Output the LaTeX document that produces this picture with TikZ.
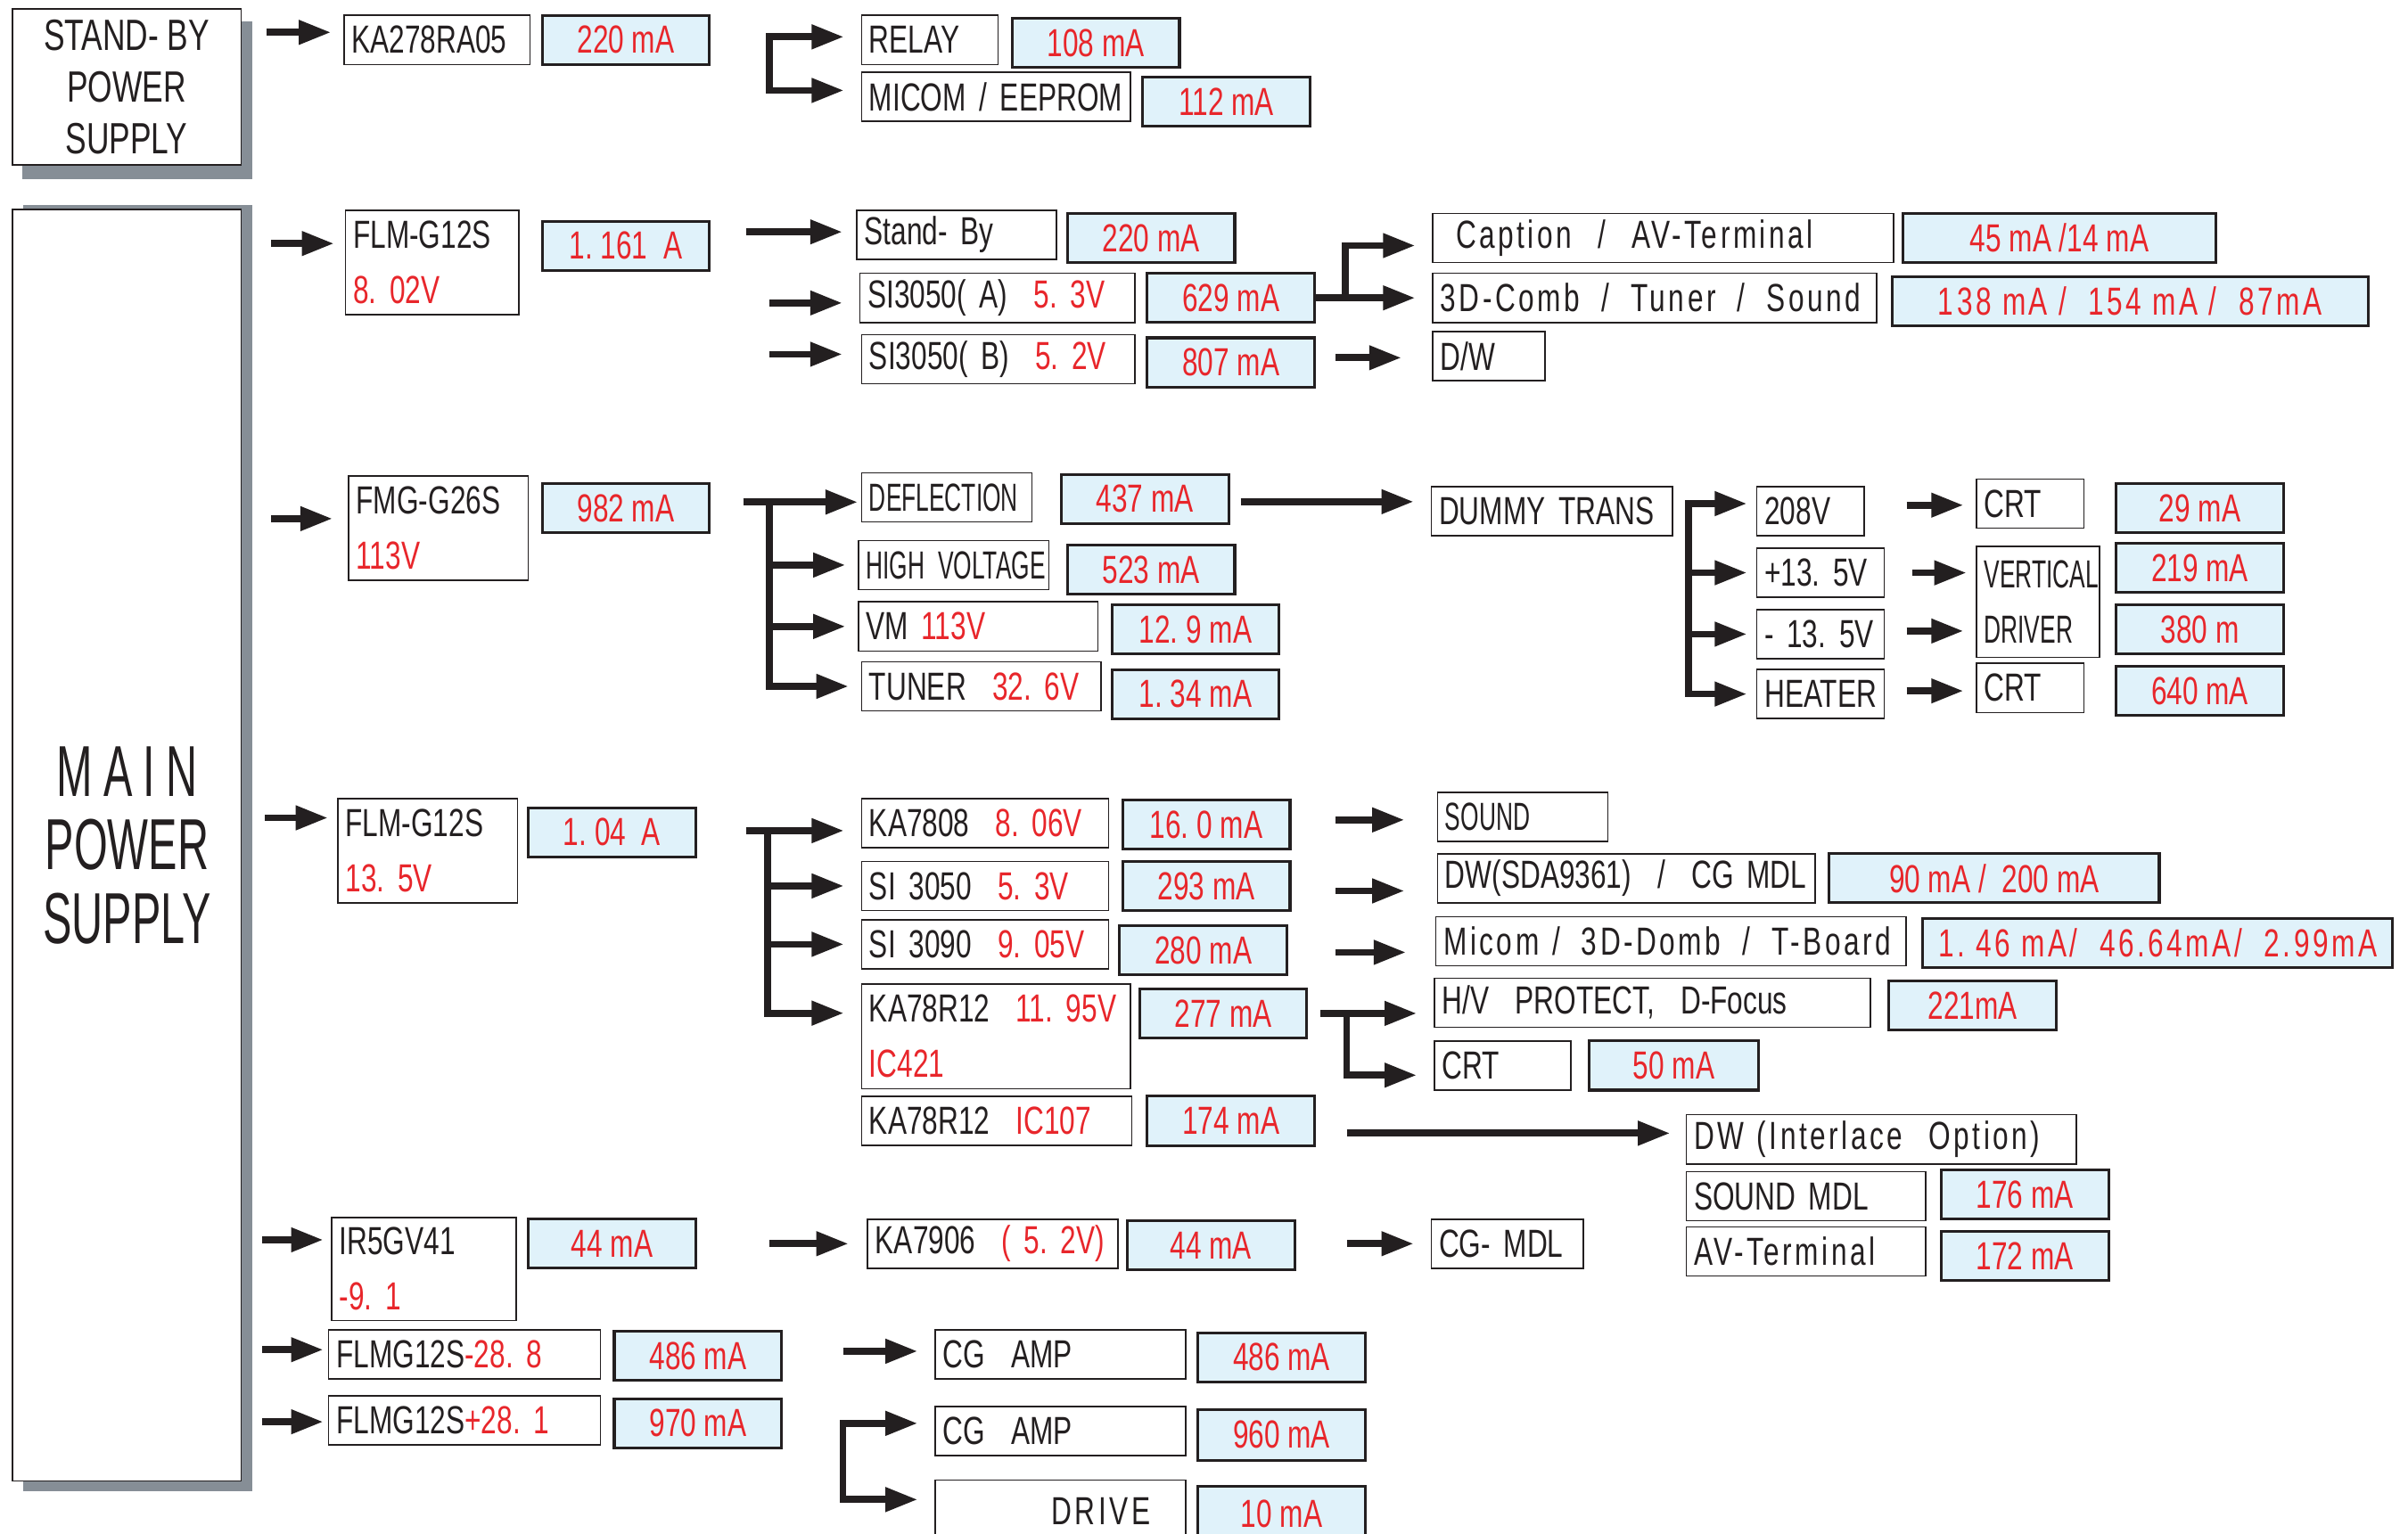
\documentclass[tikz,border=0pt]{standalone}
\usepackage{fontspec}
\setmainfont{Liberation Sans}[FakeStretch=0.72]
\newfontfamily\nar{Liberation Sans}[FakeStretch=0.6]
\newfontfamily\wide{Liberation Sans}[FakeStretch=0.72, LetterSpace=8]
\usetikzlibrary{arrows.meta,calc}
\definecolor{tred}{RGB}{232,38,43}
\definecolor{tblue}{RGB}{224,242,250}
\definecolor{tgray}{RGB}{134,142,150}
\definecolor{tink}{RGB}{35,31,32}
\newcommand\fsz{\fontsize{25.5}{36}\selectfont}
\newcommand\rd[1]{\textcolor{tred}{#1}}
\newcommand\gap{\hspace{14pt}}
\tikzset{
  wbox/.style={draw=tink, line width=0.9pt, fill=white, inner xsep=5pt, inner ysep=0pt, align=left, font=\fsz, text=tink},
  bbox/.style={draw=tink, line width=1.8pt, fill=tblue, inner sep=0pt, font=\fsz, text=tred, align=center},
  bigbox/.style={draw=tink, line width=1pt, fill=white, inner sep=0pt, align=center, text=tink},
  arrow/.style={draw=tink, line width=4.5pt, -{Triangle[length=21pt,width=15pt]}},
  dblarrow/.style={draw=tink, line width=4.5pt, {Triangle[length=21pt,width=15pt]}-{Triangle[length=21pt,width=15pt]}},
}
% white box, one line
\newcommand\wbx[7][]{%
  \pgfmathsetmacro\tw{#5-#3-10}%
  \node[wbox, minimum width={(#5-#3)*1pt}, minimum height={(#6-#4)*1pt}, text width=\tw pt, #1] (#2) at ({(#3+#5)/2},{(#4+#6)/2}) {\mbox{#7}};}
% white box, two lines
\newcommand\wbt[8][]{%
  \pgfmathsetmacro\tw{#5-#3-10}%
  \node[wbox, minimum width={(#5-#3)*1pt}, minimum height={(#6-#4)*1pt}, text width=\tw pt, #1] (#2) at ({(#3+#5)/2},{(#4+#6)/2}) {\mbox{#7}\\\mbox{#8}};}
% blue current box
\newcommand\bbx[7][]{%
  \node[bbox, minimum width={(#5-#3)*1pt}, minimum height={(#6-#4)*1pt}, #1] (#2) at ({(#3+#5)/2},{(#4+#6)/2}) {#7};}
% horizontal arrow from source node to target node at a fraction of the target's height
\newcommand\harrow[5]{%
  \coordinate (ht) at ($(#2.north west)!#3!(#2.south west)$);
  \draw[arrow, shorten <=#4pt, shorten >=#5pt] (#1.east |- ht) -- (ht);}
\frenchspacing
\begin{document}
\begin{tikzpicture}[x=1pt, y=-1pt]
\useasboundingbox (0,0) rectangle (1568,999);
\fill[white] (0,0) rectangle (1568,999);

% ---------- supply boxes with shadows ----------
\fill[tgray] (14.6,14) rectangle (164,116.7);
\fill[tgray] (15,133.5) rectangle (164.3,971.3);
\node[bigbox, font=\fontsize{28.5}{33.5}\selectfont, minimum width=149pt, minimum height=101.6pt] (sb) at (82.5,56.6) {STAND- BY\\POWER\\SUPPLY};
\node[bigbox, font=\nar\fontsize{47}{48}\selectfont, minimum width=148.8pt, minimum height=828.2pt] (main) at (82.7,550.5) {M\kern7pt A\kern7pt I\kern7pt N\\POWER\\SUPPLY};

% ---------- stand-by section ----------
\wbx{ka}{224}{10}{345}{42}{KA278RA05}
\bbx{c220a}{353}{10}{462}{42}{220 mA}
\wbx{relay}{561}{10}{650}{42}{RELAY}
\bbx{c108}{659}{12}{768}{44}{108 mA}
\wbx{micom}{561}{47}{736}{79}{MICOM / EEPROM}
\bbx{c112}{744}{50}{853}{82}{112 mA}

% ---------- section 1 ----------
\wbt{flm1}{225}{137}{338}{205}{FLM-G12S}{\rd{8. 02V}}
\bbx{c1161}{353}{144}{462}{176}{1. 161\ \ A}
\wbx{stby}{558}{137}{688}{169}{Stand- By}
\bbx{c220b}{695}{139}{804}{171}{220 mA}
\wbx{sia}{560}{178}{739}{210}{SI3050( A)\ \ \rd{5. 3V}}
\bbx{c629}{747}{178}{856}{210}{629 mA}
\wbx{sib}{561}{218}{739}{250}{SI3050( B)\ \ \rd{5. 2V}}
\bbx{c807}{747}{220}{856}{252}{807 mA}
\wbx{capt}{933}{139}{1233}{171}{\wide\hspace*{10pt}Caption\ \ /\ \ AV-Terminal}
\bbx{c45}{1239}{139}{1443}{171}{45 mA /14 mA}
\wbx{comb}{933}{178}{1222}{210}{\wide 3D-Comb\gap/\gap Tuner\gap/\gap Sound}
\bbx{c138}{1232}{180}{1542}{212}{\wide 138 mA\ /\ \ 154 mA\ /\ \ 87mA}
\wbx{dw}{933}{216}{1006}{248}{D/W}

% ---------- section 2 ----------
\wbt{fmg}{227}{310}{344}{378}{FMG-G26S}{\rd{113V}}
\bbx{c982}{353}{315}{462}{347}{982 mA}
\wbx{defl}{561}{308}{672}{340}{\nar DEFLECTION}
\bbx{c437}{691}{309}{800}{341}{437 mA}
\wbx{hvolt}{559}{352}{683}{384}{\nar HIGH VOLTAGE}
\bbx{c523}{695}{355}{804}{387}{523 mA}
\wbx{vm}{559}{392}{715}{424}{VM \rd{113V}}
\bbx{c129}{724}{394}{833}{426}{12. 9 mA}
\wbx{tuner}{561}{431}{717}{463}{TUNER\ \ \rd{32. 6V}}
\bbx{c134}{724}{436}{833}{468}{1. 34 mA}
\wbx{dummy}{932}{317}{1089}{349}{DUMMY TRANS}
\wbx{v208}{1144}{317}{1214}{349}{208V}
\wbx{p135}{1144}{357}{1227}{389}{+13. 5V}
\wbx{m135}{1144}{397}{1227}{429}{- 13. 5V}
\wbx{heater}{1144}{436}{1227}{468}{HEATER}
\wbx{crta}{1287}{312}{1357}{344}{CRT}
\wbt[inner xsep=3pt]{vd}{1287}{356}{1367}{428}{\nar VERTICAL}{\nar DRIVER}
\wbx{crtb}{1287}{432}{1357}{464}{CRT}
\bbx{c29}{1378}{315}{1487}{347}{29 mA}
\bbx{c219}{1378}{354}{1487}{386}{219 mA}
\bbx{c380}{1378}{394}{1487}{426}{380 m}
\bbx{c640}{1378}{434}{1487}{466}{640 mA}

% ---------- section 3 ----------
\wbt{flm2}{220}{520}{337}{588}{FLM-G12S}{\rd{13. 5V}}
\bbx{c104}{344}{526}{453}{558}{1. 04\ \ A}
\wbx{ka7808}{561}{520}{722}{552}{KA7808\ \ \rd{8. 06V}}
\bbx{c160}{731}{521}{840}{553}{16. 0 mA}
\wbx{si3050}{561}{561}{722}{593}{SI 3050\ \ \rd{5. 3V}}
\bbx{c293}{731}{561}{840}{593}{293 mA}
\wbx{si3090}{561}{599}{722}{631}{SI 3090\ \ \rd{9. 05V}}
\bbx{c280}{729}{603}{838}{635}{280 mA}
\wbt{kaa}{561}{641}{736}{709}{KA78R12\ \ \rd{11. 95V}}{\rd{IC421}}
\bbx{c277}{742}{644}{851}{676}{277 mA}
\wbx{kab}{561}{714}{737}{746}{KA78R12\ \ \rd{IC107}}
\bbx{c174}{747}{714}{856}{746}{174 mA}
\wbx{sound}{936}{516}{1047}{548}{\nar SOUND}
\wbx{dwsda}{936}{556}{1182}{588}{DW(SDA9361)\ \ /\ \ CG MDL}
\bbx{c90}{1191}{556}{1406}{588}{90 mA\ /\ \ 200 mA}
\wbx{micomb}{935}{597}{1241}{629}{\wide Micom /\gap 3D-Domb\gap/\gap T-Board}
\bbx{c146}{1252}{598}{1558}{630}{\wide 1. 46 mA/\ \ 46.64mA/\ \ 2.99mA}
\wbx{hvp}{934}{637}{1218}{669}{H/V\ \ PROTECT,\ \ D-Focus}
\bbx{c221}{1230}{639}{1339}{671}{221mA}
\wbx{crtc}{934}{678}{1023}{710}{CRT}
\bbx{c50}{1035}{678}{1145}{710}{50 mA}
\wbx{dwi}{1098}{726}{1352}{758}{\wide DW (Interlace\ \ Option)}
\wbx{smdl}{1098}{763}{1254}{795}{SOUND MDL}
\bbx{c176}{1264}{762}{1373}{794}{176 mA}
\wbx{avt}{1098}{799}{1254}{831}{\wide AV-Terminal}
\bbx{c172}{1264}{802}{1373}{834}{172 mA}

% ---------- section 4 ----------
\wbt{ir5}{216}{793}{336}{860}{IR5GV41}{\rd{-9. 1}}
\bbx{c44a}{344}{794}{453}{826}{44 mA}
\wbx{ka7906}{565}{794}{728}{826}{KA7906\ \ \rd{( 5. 2V)}}
\bbx{c44b}{734}{795}{843}{827}{44 mA}
\wbx{cgmdl}{932}{794}{1031}{826}{CG- MDL}

% ---------- section 5 ----------
\wbx{flma}{214}{866}{391}{898}{FLMG12S\rd{-28. 8}}
\bbx{c486a}{400}{867}{509}{899}{486 mA}
\wbx{cgampa}{609}{866}{772}{898}{CG\ \ AMP}
\bbx{c486b}{780}{868}{889}{900}{486 mA}
\wbx{flmb}{214}{909}{391}{941}{FLMG12S\rd{+28. 1}}
\bbx{c970}{400}{911}{509}{943}{970 mA}
\wbx{cgampb}{609}{916}{772}{948}{CG\ \ AMP}
\bbx{c960}{780}{918}{889}{951}{960 mA}
\wbx[align=right]{drive}{609}{964}{772}{1004}{\wide DRIVE\hspace*{18pt}}
\bbx{c10}{780}{968}{889}{1004}{10 mA}

% ---------- connectors ----------
\harrow{sb}{ka}{0.35}{16}{8}
\harrow{main}{flm1}{0.32}{19}{7}
\harrow{main}{fmg}{0.41}{19}{10}
\harrow{main}{flm2}{0.19}{15}{6}
\harrow{main}{ir5}{0.22}{13}{5}
\harrow{main}{flma}{0.41}{13}{3}
\harrow{main}{flmb}{0.53}{13}{3}

% stand-by bracket
\coordinate (bA) at ($(c220a.east)+(38,-2)$);
\coordinate (tmic) at ($(micom.north west)!0.375!(micom.south west)$);
\draw[dblarrow, shorten <=11pt, shorten >=11pt] (bA -| relay.west) -- (bA) |- (tmic);

% section 1
\harrow{c1161}{stby}{0.44}{23}{9}
\harrow{c1161}{sia}{0.6}{38}{11}
\harrow{c1161}{sib}{0.4}{38}{12}
\coordinate (j1) at ($(c629.east)+(19,0)$);
\coordinate (tcap) at ($(capt.north west)!0.65!(capt.south west)$);
\draw[arrow, shorten >=11pt] (c629.east) -- (c629.east -| comb.west);
\draw[arrow, shorten >=11pt] (j1) |- (tcap);
\harrow{c807}{dw}{0.53}{13}{20}

% section 2
\coordinate (j2) at ($(c982.east)+(21,-4)$);
\coordinate (j2v) at ($(j2)+(17,0)$);
\draw[arrow, shorten >=2pt] (j2) -- (j2 -| defl.west);
\draw[arrow, shorten >=8pt] (j2v) |- (tuner.west);
\draw[arrow, shorten >=8pt] (j2v |- hvolt.west) -- (hvolt.west);
\draw[arrow, shorten >=8pt] (j2v |- vm.west) -- (vm.west);
\harrow{c437}{dummy}{0.31}{7}{11}
\coordinate (j3) at ($(dummy.east)+(10,-5)$);
\draw[dblarrow, shorten <=6pt, shorten >=6pt] (j3 -| v208.west) -- (j3) |- (heater.west);
\draw[arrow, shorten >=6pt] (j3 |- p135.west) -- (p135.west);
\draw[arrow, shorten >=6pt] (j3 |- m135.west) -- (m135.west);
\harrow{v208}{crta}{0.53}{27}{8}
\harrow{p135}{vd}{0.24}{18}{6}
\harrow{m135}{vd}{0.76}{14}{8}
\harrow{heater}{crtb}{0.56}{14}{8}

% section 3
\coordinate (j4) at ($(c104.east)+(32,-1)$);
\coordinate (j4v) at ($(j4)+(14,0)$);
\coordinate (tka) at ($(kaa.north west)!0.28!(kaa.south west)$);
\draw[arrow, shorten >=11pt] (j4) -- (j4 -| ka7808.west);
\draw[arrow, shorten >=11pt] (j4v) |- (tka);
\draw[arrow, shorten >=11pt] (j4v |- si3050.west) -- (si3050.west);
\draw[arrow, shorten >=11pt] (j4v |- si3090.west) -- (si3090.west);
\harrow{c160}{sound}{0.56}{29}{21}
\harrow{c293}{dwsda}{0.75}{29}{21}
\harrow{c280}{micomb}{0.72}{31}{19}
\draw[arrow, shorten <=8pt, shorten >=11pt] (c277.east) -- (c277.east -| hvp.west);
\coordinate (j5) at ($(c277.east)+(25,0)$);
\coordinate (tcrt) at ($(crtc.north west)!0.69!(crtc.south west)$);
\draw[arrow, shorten >=11pt] (j5) |- (tcrt);
\harrow{c174}{dwi}{0.38}{20}{10}

% section 4
\harrow{c44a}{ka7906}{0.5}{47}{12}
\harrow{c44b}{cgmdl}{0.5}{33}{11}

% section 5
\harrow{c486a}{cgampa}{0.44}{39}{11}
\coordinate (j6) at ($(c970.east)+(39,0)$);
\coordinate (tdr) at ($(drive.north west)!0.32!(drive.south west)$);
\draw[dblarrow, shorten <=11pt, shorten >=11pt] (j6 -| cgampb.west) -- (j6) |- (tdr);
\end{tikzpicture}
\end{document}
